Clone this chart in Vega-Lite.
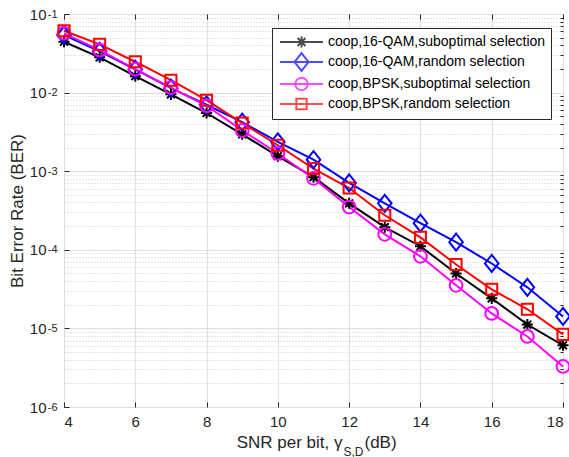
{
  "$schema": "https://vega.github.io/schema/vega-lite/v6.json",
  "width": 499,
  "height": 393,
  "autosize": "none",
  "padding": {"left": 64, "top": 14, "right": 6, "bottom": 50},
  "background": "white",
  "config": {
    "font": "Liberation Sans",
    "view": {"stroke": "#262626", "strokeWidth": 1},
    "axis": {
      "labelFont": "Liberation Sans", "titleFont": "Liberation Sans",
      "labelColor": "#262626", "titleColor": "#262626", "titleFontWeight": "normal",
      "labelFontSize": 15, "titleFontSize": 17, "domain": false,
      "tickColor": "#262626", "gridColor": "#dedede", "gridOpacity": 1
    }
  },
  "data": {"values": [
    {"snr": 4, "series": "coop,16-QAM,suboptimal selection", "ber": 0.0444},
    {"snr": 5, "series": "coop,16-QAM,suboptimal selection", "ber": 0.0281},
    {"snr": 6, "series": "coop,16-QAM,suboptimal selection", "ber": 0.0162},
    {"snr": 7, "series": "coop,16-QAM,suboptimal selection", "ber": 0.0095},
    {"snr": 8, "series": "coop,16-QAM,suboptimal selection", "ber": 0.0055},
    {"snr": 9, "series": "coop,16-QAM,suboptimal selection", "ber": 0.00295},
    {"snr": 10, "series": "coop,16-QAM,suboptimal selection", "ber": 0.00155},
    {"snr": 11, "series": "coop,16-QAM,suboptimal selection", "ber": 0.00084},
    {"snr": 12, "series": "coop,16-QAM,suboptimal selection", "ber": 0.00039},
    {"snr": 13, "series": "coop,16-QAM,suboptimal selection", "ber": 0.000194},
    {"snr": 14, "series": "coop,16-QAM,suboptimal selection", "ber": 0.000111},
    {"snr": 15, "series": "coop,16-QAM,suboptimal selection", "ber": 0.00005},
    {"snr": 16, "series": "coop,16-QAM,suboptimal selection", "ber": 0.0000241},
    {"snr": 17, "series": "coop,16-QAM,suboptimal selection", "ber": 0.0000112},
    {"snr": 18, "series": "coop,16-QAM,suboptimal selection", "ber": 0.0000061},
    {"snr": 4, "series": "coop,16-QAM,random selection", "ber": 0.054},
    {"snr": 5, "series": "coop,16-QAM,random selection", "ber": 0.0335},
    {"snr": 6, "series": "coop,16-QAM,random selection", "ber": 0.0198},
    {"snr": 7, "series": "coop,16-QAM,random selection", "ber": 0.0114},
    {"snr": 8, "series": "coop,16-QAM,random selection", "ber": 0.007},
    {"snr": 9, "series": "coop,16-QAM,random selection", "ber": 0.0042},
    {"snr": 10, "series": "coop,16-QAM,random selection", "ber": 0.00236},
    {"snr": 11, "series": "coop,16-QAM,random selection", "ber": 0.0014},
    {"snr": 12, "series": "coop,16-QAM,random selection", "ber": 0.00071},
    {"snr": 13, "series": "coop,16-QAM,random selection", "ber": 0.00039},
    {"snr": 14, "series": "coop,16-QAM,random selection", "ber": 0.000218},
    {"snr": 15, "series": "coop,16-QAM,random selection", "ber": 0.000125},
    {"snr": 16, "series": "coop,16-QAM,random selection", "ber": 0.000067},
    {"snr": 17, "series": "coop,16-QAM,random selection", "ber": 0.0000333},
    {"snr": 18, "series": "coop,16-QAM,random selection", "ber": 0.0000142},
    {"snr": 4, "series": "coop,BPSK,suboptimal selection", "ber": 0.0568},
    {"snr": 5, "series": "coop,BPSK,suboptimal selection", "ber": 0.0348},
    {"snr": 6, "series": "coop,BPSK,suboptimal selection", "ber": 0.0199},
    {"snr": 7, "series": "coop,BPSK,suboptimal selection", "ber": 0.0116},
    {"snr": 8, "series": "coop,BPSK,suboptimal selection", "ber": 0.0068},
    {"snr": 9, "series": "coop,BPSK,suboptimal selection", "ber": 0.0033},
    {"snr": 10, "series": "coop,BPSK,suboptimal selection", "ber": 0.00168},
    {"snr": 11, "series": "coop,BPSK,suboptimal selection", "ber": 0.00081},
    {"snr": 12, "series": "coop,BPSK,suboptimal selection", "ber": 0.00035},
    {"snr": 13, "series": "coop,BPSK,suboptimal selection", "ber": 0.000157},
    {"snr": 14, "series": "coop,BPSK,suboptimal selection", "ber": 0.0000826},
    {"snr": 15, "series": "coop,BPSK,suboptimal selection", "ber": 0.0000353},
    {"snr": 16, "series": "coop,BPSK,suboptimal selection", "ber": 0.0000155},
    {"snr": 17, "series": "coop,BPSK,suboptimal selection", "ber": 0.0000079},
    {"snr": 18, "series": "coop,BPSK,suboptimal selection", "ber": 0.00000328},
    {"snr": 4, "series": "coop,BPSK,random selection", "ber": 0.0612},
    {"snr": 5, "series": "coop,BPSK,random selection", "ber": 0.0411},
    {"snr": 6, "series": "coop,BPSK,random selection", "ber": 0.0247},
    {"snr": 7, "series": "coop,BPSK,random selection", "ber": 0.0144},
    {"snr": 8, "series": "coop,BPSK,random selection", "ber": 0.008},
    {"snr": 9, "series": "coop,BPSK,random selection", "ber": 0.0041},
    {"snr": 10, "series": "coop,BPSK,random selection", "ber": 0.00214},
    {"snr": 11, "series": "coop,BPSK,random selection", "ber": 0.00108},
    {"snr": 12, "series": "coop,BPSK,random selection", "ber": 0.00061},
    {"snr": 13, "series": "coop,BPSK,random selection", "ber": 0.000275},
    {"snr": 14, "series": "coop,BPSK,random selection", "ber": 0.000144},
    {"snr": 15, "series": "coop,BPSK,random selection", "ber": 0.000065},
    {"snr": 16, "series": "coop,BPSK,random selection", "ber": 0.0000314},
    {"snr": 17, "series": "coop,BPSK,random selection", "ber": 0.0000175},
    {"snr": 18, "series": "coop,BPSK,random selection", "ber": 0.0000084}
  ]},
  "resolve": {
    "scale": {"color": "independent", "shape": "independent"},
    "axis": {"x": "independent", "y": "independent"}
  },
  "layer": [
    {
      "mark": {"type": "line", "strokeWidth": 2},
      "encoding": {
        "x": {"field": "snr", "type": "quantitative",
          "scale": {"domain": [4, 18], "nice": false, "zero": false},
          "axis": {"values": [4, 6, 8, 10, 12, 14, 16, 18], "grid": true, "tickSize": -5, "labelPadding": 12,
            "title": "SNR per bit, γ", "titleX": 278, "titleY": 40, "titleAlign": "right", "titleAnchor": null, "titleBaseline": "alphabetic"}},
        "y": {"field": "ber", "type": "quantitative",
          "scale": {"type": "log", "domain": [0.000001, 0.1], "nice": false},
          "axis": {"values": [0.000001, 0.00001, 0.0001, 0.001, 0.01, 0.1], "grid": true, "tickSize": -5, "labelPadding": 23,
            "labelExpr": "'10'", "title": "Bit Error Rate (BER)", "titlePadding": 3}},
        "color": {"field": "series", "type": "nominal",
          "scale": {"domain": ["coop,16-QAM,suboptimal selection", "coop,16-QAM,random selection", "coop,BPSK,suboptimal selection", "coop,BPSK,random selection"],
            "range": ["#000000", "#0000ff", "#ff00ff", "#ff0000"]},
          "legend": null}
      }
    },
    {
      "mark": {"type": "point", "filled": false, "strokeWidth": 2, "size": 289, "opacity": 1},
      "encoding": {
        "x": {"field": "snr", "type": "quantitative",
          "axis": {"orient": "top", "values": [4, 6, 8, 10, 12, 14, 16, 18], "grid": false, "labels": false, "tickSize": -5, "title": null}},
        "y": {"field": "ber", "type": "quantitative",
          "axis": {"orient": "right", "labels": false, "tickSize": -3, "title": null, "grid": true, "gridDash": [1, 2], "gridColor": "#cfcfcf",
            "values": [0.000002, 0.000003, 0.000004, 0.000005, 0.000006, 0.000007, 0.000008, 0.000009,
              0.00002, 0.00003, 0.00004, 0.00005, 0.00006, 0.00007, 0.00008, 0.00009,
              0.0002, 0.0003, 0.0004, 0.0005, 0.0006, 0.0007, 0.0008, 0.0009,
              0.002, 0.003, 0.004, 0.005, 0.006, 0.007, 0.008, 0.009,
              0.02, 0.03, 0.04, 0.05, 0.06, 0.07, 0.08, 0.09]}},
        "color": {"field": "series", "type": "nominal",
          "scale": {"domain": ["coop,16-QAM,suboptimal selection", "coop,16-QAM,random selection", "coop,BPSK,suboptimal selection", "coop,BPSK,random selection"],
            "range": ["#000000", "#0000ff", "#ff00ff", "#ff0000"]},
          "legend": null},
        "shape": {"field": "series", "type": "nominal",
          "scale": {"domain": ["coop,16-QAM,suboptimal selection", "coop,16-QAM,random selection", "coop,BPSK,suboptimal selection", "coop,BPSK,random selection"],
            "range": ["M-0.65,0H0.65M0,-0.65V0.65M-0.46,-0.46L0.46,0.46M-0.46,0.46L0.46,-0.46",
              "M0,-1L0.8,0L0,1L-0.8,0Z",
              "M0.75,0A0.75,0.75 0 1,1 -0.75,0A0.75,0.75 0 1,1 0.75,0Z",
              "M-0.65,-0.65H0.65V0.65H-0.65Z"]},
          "legend": null}
      }
    },
    {
      "transform": [{"filter": "datum.snr < 0"}],
      "mark": {"type": "point", "filled": false, "strokeWidth": 2},
      "encoding": {
        "x": {"field": "snr", "type": "quantitative",
          "axis": {"orient": "bottom", "labels": false, "ticks": false, "grid": false, "title": "S,D",
            "titleFontSize": 12, "titleX": 279, "titleY": 48, "titleBaseline": "alphabetic", "titleAlign": "left", "titleAnchor": null}},
        "y": {"field": "ber", "type": "quantitative",
          "axis": {"orient": "left", "values": [0.000001, 0.00001, 0.0001, 0.001, 0.01, 0.1], "grid": false, "ticks": false,
            "labelFontSize": 11, "labelPadding": 7, "labelDy": -7, "title": null,
            "labelExpr": "['0','-1','-2','-3','-4','-5','-6'][round(-log(datum.value)/LN10)]"}},
        "color": {"field": "series", "type": "nominal",
          "scale": {"domain": ["coop,16-QAM,suboptimal selection", "coop,16-QAM,random selection", "coop,BPSK,suboptimal selection", "coop,BPSK,random selection"],
            "range": ["#000000", "#0000ff", "#ff00ff", "#ff0000"]},
          "legend": {"title": null, "orient": "none", "legendX": 208, "legendY": 14, "symbolSize": 256, "symbolStrokeWidth": 2,
            "labelFontSize": 14, "labelFont": "Liberation Sans", "labelColor": "#000000", "labelOffset": 33, "labelLimit": 400,
            "padding": 5, "rowPadding": -3, "strokeColor": "#262626", "fillColor": "white", "cornerRadius": 0}},
        "shape": {"field": "series", "type": "nominal",
          "scale": {"domain": ["coop,16-QAM,suboptimal selection", "coop,16-QAM,random selection", "coop,BPSK,suboptimal selection", "coop,BPSK,random selection"],
            "range": ["M-0.75,0H4.62M1.94,-0.69V0.69M1.45,-0.49L2.43,0.49M1.45,0.49L2.43,-0.49",
              "M-0.75,0H4.62M1.94,-1.1L2.81,0L1.94,1.1L1.07,0Z",
              "M-0.75,0H4.62M2.72,0A0.78,0.78 0 1,1 1.16,0A0.78,0.78 0 1,1 2.72,0Z",
              "M-0.75,0H4.62M1.29,-0.65H2.59V0.65H1.29Z"]},
          "legend": {"title": null, "orient": "none", "legendX": 208, "legendY": 14, "symbolSize": 256, "symbolStrokeWidth": 2,
            "labelFontSize": 14, "labelFont": "Liberation Sans", "labelColor": "#000000", "labelOffset": 33, "labelLimit": 400,
            "padding": 5, "rowPadding": -3, "strokeColor": "#262626", "fillColor": "white", "cornerRadius": 0}}
      }
    },
    {
      "transform": [{"filter": "datum.snr < 0"}],
      "mark": {"type": "point"},
      "encoding": {
        "x": {"field": "snr", "type": "quantitative",
          "axis": {"orient": "bottom", "labels": false, "ticks": false, "grid": false, "title": "(dB)",
            "titleX": 300, "titleY": 40, "titleBaseline": "alphabetic", "titleAlign": "left", "titleAnchor": null}},
        "y": {"field": "ber", "type": "quantitative", "axis": null}
      }
    }
  ]
}
